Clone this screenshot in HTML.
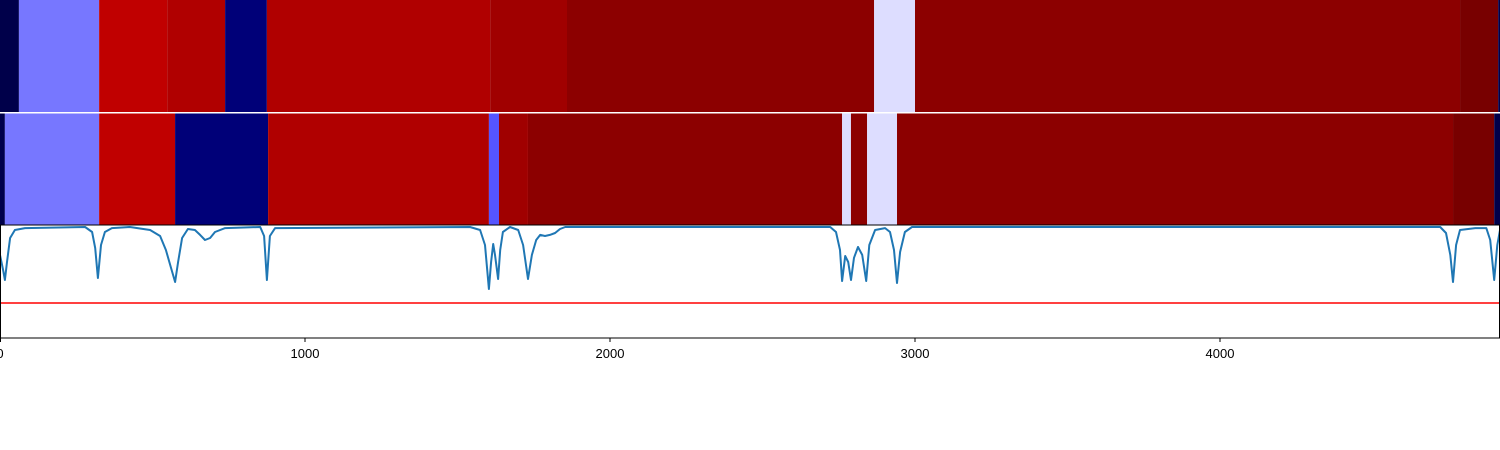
<!DOCTYPE html>
<html><head><meta charset="utf-8"><style>
html,body{margin:0;padding:0;background:#fff;width:1500px;height:450px;overflow:hidden}
svg text{font-family:"Liberation Sans",sans-serif;font-size:13px}
</style></head><body>
<svg id="chart" width="1500" height="450">
<g id="strip1"></g>
<g id="strip2"></g>
<g id="plot"></g>
<g id="xaxis"></g>
</svg>
<script>
const topBounds=[0,62,325,548,738,875,1607,1859,2866,3000,4787,4912,4918];
const topColors=["#00004a","#7777ff","#c00000","#b00000","#000078","#b00000","#a00000","#8c0000","#ddddff","#8c0000","#780000","#00004a"];
const botBounds=[0,16,325,574,879,1603,1636,1731,2761,2790,2843,2941,4764,4899,4918];
const botColors=["#00004a","#7777ff","#c00000","#000078","#b00000","#5555ff","#a00000","#8c0000","#ddddff","#8c0000","#ddddff","#8c0000","#780000","#00004a"];
const specX=[0,10,16,23,33,49,82,279,302,312,321,331,344,367,426,492,525,544,561,574,584,597,616,639,656,672,689,705,738,853,866,875,885,902,1541,1574,1590,1603,1610,1617,1623,1633,1640,1649,1672,1699,1715,1731,1744,1758,1771,1787,1803,1820,1836,1853,2722,2741,2754,2761,2771,2781,2790,2800,2813,2827,2840,2850,2869,2902,2918,2931,2941,2951,2967,2990,4722,4741,4755,4764,4774,4787,4837,4873,4886,4899,4909,4918];
const specY=[73.5,60.2,51.3,67.3,88.5,95.6,97.3,98.2,93.8,79.6,53.1,82.3,93.8,97.3,98.2,95.6,90.3,77.9,61.9,49.6,67.3,88.5,96.5,95.6,91.2,86.7,88.5,93.8,97.3,98.2,90.3,51.3,90.3,97.3,98.2,95.6,82.3,43.4,67.3,83.2,73.5,52.2,77.9,93.8,98.2,95.6,82.3,52.2,73.5,86.7,91.2,90.3,91.2,92.9,96.5,98.2,98.2,93.8,77.9,50.4,72.6,67.3,51.3,71.0,80.5,73.5,50.4,82.3,95.6,97.3,93.8,77.9,48.7,76.1,93.8,98.2,98.2,92.9,73.5,49.6,82.3,95.6,97.3,97.3,86.7,51.3,82.3,95.6];
const thresholdY=[31];
const tickVals=[0,1000,2000,3000,4000];
const tickLabels=["0","1000","2000","3000","4000"];

const X0=0,X1=1500,D1=4918;
const xs=v=>X0+(v/D1)*(X1-X0);
const P3T=225,P3B=338;
const ys=v=>P3B-(v/100)*(P3B-P3T);
const NS="http://www.w3.org/2000/svg";
function mk(tag,attrs,parent){const e=document.createElementNS(NS,tag);for(const k in attrs)e.setAttribute(k,attrs[k]);parent.appendChild(e);return e;}

function strip(g,bounds,colors,y0,y1,nm){
  for(let i=0;i<colors.length;i++){
    const r=mk('rect',{x:xs(bounds[i]),y:y0,width:xs(bounds[i+1])-xs(bounds[i]),height:y1-y0,fill:colors[i]},g);
    
    
  }
}
strip(document.getElementById('strip1'),topBounds,topColors,0,112,'top-strip');
strip(document.getElementById('strip2'),botBounds,botColors,113.5,225,'bottom-strip');

const plot=document.getElementById('plot');
let d='';
for(let i=0;i<specX.length;i++){d+=(i?'L':'M')+xs(specX[i]).toFixed(1)+','+ys(specY[i]).toFixed(1);}
const line=mk('path',{d:d,fill:'none',stroke:'#1f77b4','stroke-width':2,'stroke-linejoin':'round'},plot);


const th=mk('line',{x1:X0,x2:X1,y1:ys(thresholdY[0]),y2:ys(thresholdY[0]),stroke:'#ff0000','stroke-width':1.5},plot);


const fr=mk('rect',{x:0.5,y:225,width:1499,height:113,fill:'none',stroke:'#000','stroke-width':1},plot);



const ax=document.getElementById('xaxis');
tickVals.forEach((v,i)=>{
  const x=Math.max(xs(v),0.5);
  const t=mk('line',{x1:x,x2:x,y1:338,y2:342,stroke:'#000','stroke-width':1},ax);
  
  
  const tx=mk('text',{x:xs(v),y:358,'text-anchor':'middle',fill:'#000'},ax);
  tx.textContent=tickLabels[i];
  
  
});
</script>
</body></html>
